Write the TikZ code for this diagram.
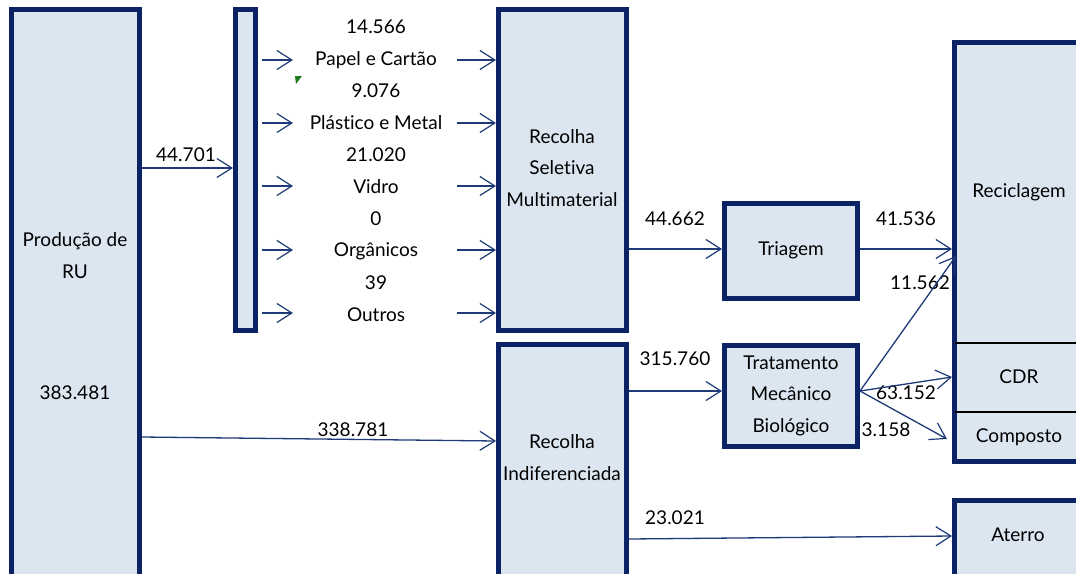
\documentclass[tikz,border=0pt]{standalone}
\usepackage{fontspec}
\setmainfont{Lato}[Ligatures=NoCommon]
\usetikzlibrary{arrows.meta,calc}
\definecolor{navy}{HTML}{0B2265}
\definecolor{arrc}{HTML}{1F3A78}
\definecolor{boxfill}{HTML}{DCE6F1}
\definecolor{greenmark}{HTML}{1E7A1E}
\tikzset{
  box/.style={draw=navy, line width=5pt, fill=boxfill, inner sep=0pt},
  gapline/.style={draw=white, line width=0.9pt},
  lbl/.style={inner sep=0pt, font=\fontsize{19}{22}\selectfont, text=black},
  arr/.style={draw=arrc, line width=1.3pt, -{Straight Barb[length=15pt,width=19pt,line width=1.2pt]}},
  divider/.style={draw=black, line width=2pt}
}
\begin{document}
\begin{tikzpicture}[x=1pt,y=-1pt]
\useasboundingbox (0,0) rectangle (1076,573);
\clip (0,0) rectangle (1076,573);
\fill[white] (0,0) rectangle (1076,573);
% boxes
\node[box, minimum width=128pt, minimum height=628pt] (A) at (75.5,323.5) {};
\node[box, minimum width=20pt, minimum height=321pt] (B) at (245.5,170) {};
\node[box, minimum width=128pt, minimum height=321pt] (C) at (562.5,170) {};
\node[box, minimum width=128pt, minimum height=293pt] (D) at (562.5,491) {};
\node[box, minimum width=133pt, minimum height=95pt] (T) at (791,251) {};
\node[box, minimum width=133pt, minimum height=101pt] (M) at (791,396) {};
\node[box, minimum width=129pt, minimum height=419pt] (R) at (1019,252) {};
\node[box, minimum width=129pt, minimum height=137pt] (Aterro) at (1019,569) {};
\foreach \n in {A,B,C,D,T,M,R,Aterro}
  \draw[gapline] ([shift={(-0.4pt,0.4pt)}]\n.north west) rectangle ([shift={(0.4pt,-0.4pt)}]\n.south east);
\draw[divider] ($(R.west|-0,343)+(2.5,0)$) -- (R.east|-0,343);
\draw[divider] ($(R.west|-0,412)+(2.5,0)$) -- (R.east|-0,412);
% box texts
\node[lbl] (a1) at (75,241) {Produção de};
\node[lbl] (a2) at (75,272) {RU};
\node[lbl] (a3) at (75,393) {383.481};
\node[lbl] (c1) at (562,137) {Recolha};
\node[lbl] (c2) at (562,168) {Seletiva};
\node[lbl] (c3) at (562,200) {Multimaterial};
\node[lbl] (d1) at (562,442) {Recolha};
\node[lbl] (d2) at (562,474) {Indiferenciada};
\node[lbl] (t1) at (791,250) {Triagem};
\node[lbl] (m1) at (791,363) {Tratamento};
\node[lbl] (m2) at (791,394) {Mecânico};
\node[lbl] (m3) at (791,427) {Biológico};
\node[lbl] (r1) at (1019,192) {Reciclagem};
\node[lbl] (r2) at (1019,377) {CDR};
\node[lbl] (r3) at (1019,437) {Composto};
\node[lbl] (e1) at (1018,535) {Aterro};
% material labels
\node[lbl] (n1) at (376,27) {14.566};
\node[lbl] (p1) at (376,60) {Papel e Cartão};
\node[lbl] (n2) at (376,91) {9.076};
\node[lbl] (p2) at (376,123) {Plástico e Metal};
\node[lbl] (n3) at (376,155) {21.020};
\node[lbl] (p3) at (376,187) {Vidro};
\node[lbl] (n4) at (376,219) {0};
\node[lbl] (p4) at (376,251) {Orgânicos};
\node[lbl] (n5) at (376,283) {39};
\node[lbl] (p5) at (376,315) {Outros};
% flow labels
\node[lbl] (f1) at (186,155) {44.701};
\node[lbl] (f2) at (353,430) {338.781};
\node[lbl] (f3) at (675,219) {44.662};
\node[lbl] (f4) at (906,219) {41.536};
\node[lbl] (f5) at (920,283) {11.562};
\node[lbl] (f6) at (675,359) {315.760};
\node[lbl] (f7) at (906,393) {63.152};
\node[lbl] (f8) at (886,430) {3.158};
\node[lbl] (f9) at (675,518) {23.021};
% arrows
\draw[arr] (A.east|-0,168) -- (B.west|-0,168);
\foreach \y in {60,123,186,250,313} {
  \draw[arr] ($(B.east|-0,\y)+(4,0)$) -- ++(31,0);
  \draw[arr] (457,\y) -- (C.west|-0,\y);
}
\draw[arr] (A.east|-0,437) -- (D.west|-0,441);
\draw[arr] (C.east|-0,249) -- (T.west|-0,249);
\draw[arr] (T.east|-0,249) -- (R.west|-0,249);
\draw[arr] (D.east|-0,391) -- (M.west|-0,391);
\draw[arr] (M.east|-0,391) -- ($(R.west|-0,256)+(4,0)$);
\draw[arr] (M.east|-0,391) -- (R.west|-0,377);
\draw[arr] (M.east|-0,391) -- ($(R.west|-0,439)+(-5,0)$);
\draw[arr] (D.east|-0,539) -- (Aterro.west|-0,536);
% small green mark
\fill[greenmark] (295,76) -- (302,76) -- (296,84) -- cycle;
\end{tikzpicture}
\end{document}
